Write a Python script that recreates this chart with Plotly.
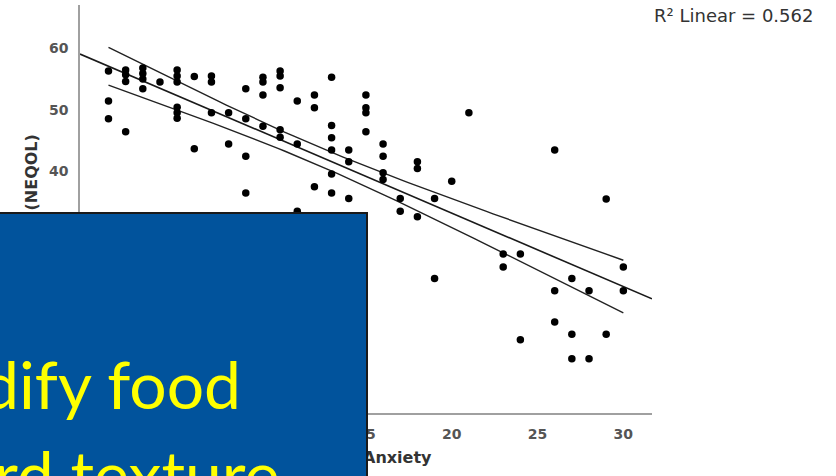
import numpy as np
import plotly.graph_objects as go

# Anxiety score (x) and NEQOL score (y) for each respondent
anxiety = [0, 0, 0,
           1, 1, 1, 1,
           2, 2, 2, 2,
           3,
           4, 4, 4, 4, 4, 4,
           5, 5,
           6, 6, 6,
           7, 7,
           8, 8, 8, 8,
           9, 9, 9, 9,
           10, 10, 10, 10, 10,
           11, 11, 11,
           12, 12, 12,
           13, 13, 13, 13, 13, 13,
           14, 14, 14,
           15, 15, 15, 15,
           16, 16, 16, 16,
           17, 17,
           18, 18, 18,
           19, 19,
           20,
           21,
           23, 23,
           24, 24,
           26, 26, 26,
           27, 27, 27,
           28, 28,
           29, 29,
           30, 30]
neqol = [56.3, 51.4, 48.5,
         56.5, 55.7, 54.6, 46.4,
         56.8, 55.9, 55.0, 53.4,
         54.5,
         56.5, 55.5, 54.5, 50.4, 49.5, 48.6,
         55.4, 43.6,
         55.5, 54.5, 49.5,
         49.5, 44.4,
         53.4, 48.5, 42.4, 36.4,
         55.3, 54.5, 52.4, 47.3,
         56.3, 55.5, 53.6, 46.7, 45.5,
         51.4, 44.4, 33.4,
         52.4, 50.3, 37.4,
         55.3, 47.4, 45.4, 43.4, 39.5, 36.4,
         43.4, 41.5, 35.5,
         52.4, 50.3, 49.5, 46.4,
         44.4, 42.4, 39.7, 38.6,
         35.5, 33.4,
         41.5, 40.4, 32.5,
         35.5, 22.4,
         38.3,
         49.5,
         26.4, 24.3,
         26.4, 12.4,
         43.4, 20.4, 15.3,
         22.4, 13.3, 9.3,
         20.4, 9.3,
         35.4, 13.3,
         24.3, 20.4]

# Linear fit and its 95% confidence band for the mean
fit_intercept = 57.1
fit_slope = -1.20
ci_center = 12.0
ci_half_min = 1.5
ci_spread = 0.224
r2_label = "R² Linear = 0.562"

x_tick_vals = [0, 5, 10, 15, 20, 25, 30]
y_tick_vals = [0, 10, 20, 30, 40, 50, 60]
x_range = [-1.66, 31.67]
y_range = [0.44, 67.1]

# Overlaid slide text box
box_lines = ["dify food", "rd texture"]

W, H = 836, 476
ML, MR, MT, MB = 80, 184, 5, 63
PW, PH = W - ML - MR, H - MT - MB


def px(xp):
    return (xp - ML) / PW


def py(yp):
    return (H - MB - yp) / PH


xs = np.array(anxiety, dtype=float)
fit_x = np.linspace(x_range[0], x_range[1], 50)
fit_y = fit_intercept + fit_slope * fit_x
band_x = np.linspace(xs.min(), xs.max(), 80)
band_mid = fit_intercept + fit_slope * band_x
band_half = np.sqrt(ci_half_min ** 2 + (ci_spread * (band_x - ci_center)) ** 2)

line_style = dict(color="#222222", width=1.4)

fig = go.Figure()
fig.add_trace(go.Scatter(x=band_x, y=band_mid + band_half, mode="lines",
                         line=line_style, hoverinfo="skip"))
fig.add_trace(go.Scatter(x=band_x, y=band_mid - band_half, mode="lines",
                         line=line_style, hoverinfo="skip"))
fig.add_trace(go.Scatter(x=fit_x, y=fit_y, mode="lines",
                         line=dict(color="#1a1a1a", width=1.6), hoverinfo="skip"))
fig.add_trace(go.Scatter(x=anxiety, y=neqol, mode="markers",
                         marker=dict(color="black", size=7.5)))

tick_font = dict(family="DejaVu Sans", size=14, color="#555555", weight="bold")
title_font = dict(family="DejaVu Sans", size=16, color="#333333", weight="bold")
box_font = dict(family="Lato", size=66, color="#FFFF00")

annotations = [
    dict(text="(NEQOL)", textangle=-90, x=px(31), y=py(172.5),
         xanchor="center", yanchor="middle", font=title_font),
    dict(text="Anxiety", x=px(361), y=py(457.5), xanchor="left",
         yanchor="middle", font=title_font),
    dict(text=r2_label, x=px(815), y=py(15), xanchor="right", yanchor="middle",
         font=dict(family="DejaVu Sans", size=18, color="#333333")),
    dict(text=" ", x=px(368), y=py(212), xanchor="right", yanchor="top",
         width=520, height=320, bgcolor="#01539C", bordercolor="#1a1a1a",
         borderwidth=2, borderpad=0),
    dict(text=box_lines[0], x=px(243), y=py(383.5), xanchor="right",
         yanchor="middle", font=box_font),
    dict(text=box_lines[1], x=px(281), y=py(473.5), xanchor="right",
         yanchor="middle", font=box_font),
]
for a in annotations:
    a.setdefault("xref", "paper")
    a.setdefault("yref", "paper")
    a["showarrow"] = False

fig.update_layout(
    width=W, height=H,
    margin=dict(l=ML, r=MR, t=MT, b=MB, autoexpand=False),
    paper_bgcolor="white", plot_bgcolor="white",
    showlegend=False,
    annotations=annotations,
    xaxis=dict(range=x_range, tickvals=x_tick_vals, showgrid=False, zeroline=False,
               showline=True, linecolor="#a0a0a0", linewidth=1.5, ticks="",
               tickfont=tick_font, ticklabelstandoff=7),
    yaxis=dict(range=y_range, tickvals=y_tick_vals, showgrid=False, zeroline=False,
               showline=True, linecolor="#a0a0a0", linewidth=1.5, ticks="",
               tickfont=tick_font, ticklabelstandoff=7),
)

fig.write_html("out.html")
